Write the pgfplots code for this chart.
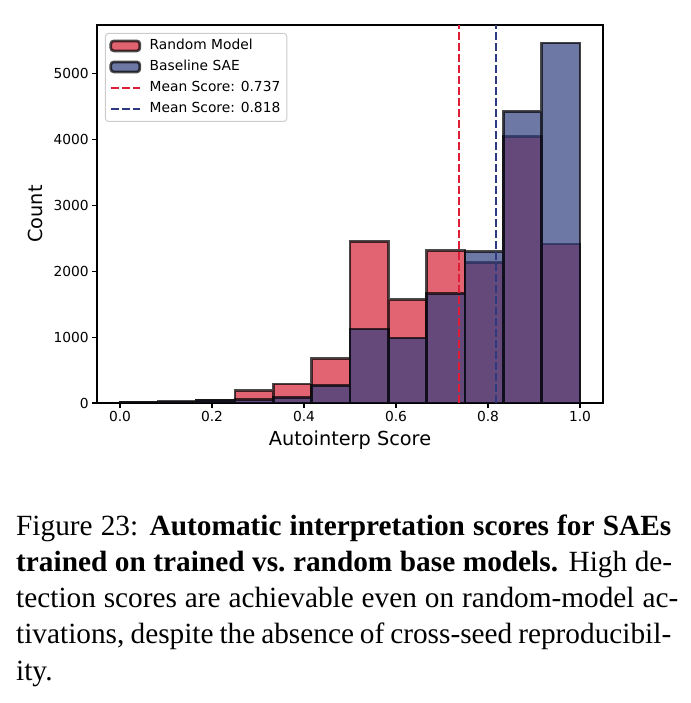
\documentclass[border=0pt]{standalone}
\usepackage{fontspec}
\setmainfont{Liberation Serif}
\newfontfamily\dejavu{DejaVu Sans}
\usepackage{pgfplots}
\pgfplotsset{compat=1.18}
\definecolor{rmred}{RGB}{214,33,52}
\definecolor{saeblue}{RGB}{48,62,126}
\definecolor{rmline}{RGB}{222,30,55}
\definecolor{saeline}{RGB}{45,58,130}
\pgfplotsset{
  patch legend/.style={legend image code/.code={\draw[##1, line width=2.7bp] (0bp,-5bp) rectangle (29bp,5bp);}},
  dash legend/.style={legend image code/.code={\draw[##1] (0bp,0bp) -- (29bp,0bp);}},
}
\begin{document}
\begin{tikzpicture}
\path[use as bounding box] (0,0) rectangle (691bp,703bp);
\begin{axis}[
  at={(97bp,300bp)}, anchor=south west,
  scale only axis, width=506bp, height=378bp,
  xmin=-0.05, xmax=1.05, ymin=0, ymax=5733,
  xtick={0,0.2,0.4,0.6,0.8,1.0},
  ytick={0,1000,2000,3000,4000,5000},
  xticklabel style={/pgf/number format/.cd, fixed, fixed zerofill, precision=1},
  yticklabel style={/pgf/number format/1000 sep={}},
  /pgf/number format/assume math mode=true,
  tick label style={font=\dejavu\fontsize{13.8bp}{16bp}\selectfont},
  label style={font=\dejavu\fontsize{19.3bp}{23bp}\selectfont},
  xlabel={Autointerp Score}, ylabel={Count},
  xlabel style={at={(axis description cs:0.5,-0.113)}, anchor=base},
  ylabel style={at={(axis description cs:-0.1206,0.5)}, anchor=center},
  tick align=outside, tick pos=left,
  major tick length=4.8bp,
  tick style={black, line width=1.1bp},
  axis line style={line width=1.1bp},
  legend cell align=left,
  legend style={at={(axis description cs:0.0158,0.979)}, anchor=north west,
    draw=black!20, line width=1bp, rounded corners=3bp, fill=white,
    font=\dejavu\fontsize{13.8bp}{16bp}\selectfont,
    inner xsep=4bp, inner ysep=3.5bp, row sep=3bp, column sep=6bp,
    nodes={inner sep=2.5bp, text height=10bp, text depth=3bp}},
]
\addplot[ybar interval, fill=rmred, fill opacity=0.7, draw=black, draw opacity=0.7, line width=2.7bp, patch legend]
  coordinates {(0,12) (0.083333,20) (0.166667,35) (0.25,187) (0.333333,290) (0.416667,672)
   (0.5,2452) (0.583333,1567) (0.666667,2310) (0.75,2133) (0.833333,4045) (0.916667,2412) (1,2412)};
\addlegendentry{Random Model}
\addplot[ybar interval, fill=saeblue, fill opacity=0.7, draw=black, draw opacity=0.7, line width=2.7bp, patch legend]
  coordinates {(0,8) (0.083333,15) (0.166667,35) (0.25,50) (0.333333,86) (0.416667,270)
   (0.5,1122) (0.583333,986) (0.666667,1658) (0.75,2295) (0.833333,4424) (0.916667,5460) (1,5460)};
\addlegendentry{Baseline SAE}
\addplot[rmline, line width=2.1bp, dash pattern=on 7.7bp off 3.3bp, dash legend]
  coordinates {(0.737,0) (0.737,5733)};
\addlegendentry{Mean Score: 0.737}
\addplot[saeline, line width=2.1bp, dash pattern=on 7.7bp off 3.3bp, dash legend]
  coordinates {(0.818,0) (0.818,5733)};
\addlegendentry{Mean Score: 0.818}
\end{axis}
\begin{scope}[every node/.style={anchor=base west, inner sep=0pt, font=\fontsize{29.3bp}{36bp}\selectfont}]
\node at (16bp,167bp) {\makebox[655bp][s]{Figure 23: \textbf{Automatic interpretation scores for SAEs}}};
\node at (16bp,131bp) {\makebox[656bp][s]{\textbf{trained on trained vs.\ random base models.} High de-}};
\node at (16bp,95bp) {\makebox[662bp][s]{tection scores are achievable even on random-model ac-}};
\node at (16bp,59bp) {\makebox[655bp][s]{tivations, despite the absence of cross-seed reproducibil-}};
\node at (16bp,23bp) {ity.};
\end{scope}
\end{tikzpicture}
\end{document}
